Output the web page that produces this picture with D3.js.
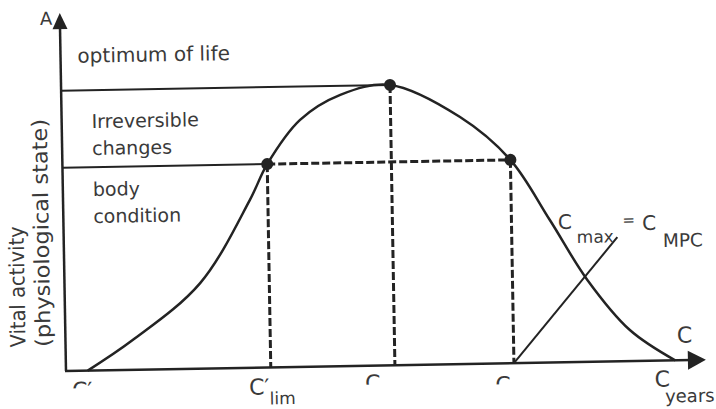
<!DOCTYPE html>
<html>
<head>
<meta charset="utf-8">
<script src="https://cdn.jsdelivr.net/npm/d3@7"></script>
<style>
  body { margin: 0; background: #fff; }
  text { font-family: "DejaVu Sans", Verdana, sans-serif; fill: #3a3a3a; }
</style>
</head>
<body>
<svg id="chart"></svg>
<script>
let w = 716;
let h = 409;

// curve: vital activity over time
let ageX     = [3.4, 10.5, 21.2, 29.2, 32.0, 37.25, 43.6, 51.4, 62.25, 70.0, 76.0, 81.7, 88.2, 95.2];
let activity = [0,   8.3,  23.9, 46.9, 56.8, 69.0,  75.8, 78.3, 69.0,  56.8, 39.8, 22.9, 8.7,  0];

// marked points: C'lim, peak, Cmax
let keyX = [32.0, 51.4, 70.0];
let keyY = [56.8, 78.3, 56.8];

let optimumLevel = 78.3;
let bodyLevel = 56.8;

// line C max = C MPC
let mpcX = [70.0, 86.5];
let mpcY = [0, 34.7];

let zoneLabels = [["optimum of life"], ["Irreversible", "changes"], ["body", "condition"]];

let ink = "#232323";

let chart = d3.select("#chart").attr("width", w).attr("height", h);

// the scan is turned by about a degree
let g = chart.append("g").attr("transform", "rotate(-1,66,371)");

let xScale = d3.scaleLinear().domain([0, 100]).range([66, 706]);
let yScale = d3.scaleLinear().domain([0, 100]).range([371, 13]);

let curve = ageX.map((x, i) => [x, activity[i]]);
let line = d3.line()
    .x(d => xScale(d[0]))
    .y(d => yScale(d[1]))
    .curve(d3.curveCatmullRom.alpha(0.5));

// axes
g.append("line")
    .attr("x1", xScale(0)).attr("y1", yScale(0))
    .attr("x2", xScale(0)).attr("y2", yScale(100) + 12)
    .attr("stroke", ink).attr("stroke-width", 2.5);
g.append("line")
    .attr("x1", xScale(0) - 1).attr("y1", yScale(0))
    .attr("x2", xScale(100) - 14).attr("y2", yScale(0))
    .attr("stroke", ink).attr("stroke-width", 2.5);

// arrow heads
let tipY = [xScale(0), yScale(100)];
g.append("path")
    .attr("d", `M${tipY[0]},${tipY[1]} L${tipY[0] - 7.5},${tipY[1] + 16} L${tipY[0] + 7.5},${tipY[1] + 16} Z`)
    .attr("fill", ink);
let tipX = [xScale(100), yScale(0)];
g.append("path")
    .attr("d", `M${tipX[0]},${tipX[1]} L${tipX[0] - 18},${tipX[1] - 9.5} L${tipX[0] - 18},${tipX[1] + 9.5} Z`)
    .attr("fill", ink);

// solid level lines
g.append("line")
    .attr("x1", xScale(0)).attr("y1", yScale(optimumLevel))
    .attr("x2", xScale(keyX[1])).attr("y2", yScale(optimumLevel))
    .attr("stroke", ink).attr("stroke-width", 2);
g.append("line")
    .attr("x1", xScale(0)).attr("y1", yScale(bodyLevel))
    .attr("x2", xScale(keyX[0])).attr("y2", yScale(bodyLevel))
    .attr("stroke", ink).attr("stroke-width", 2);

// dashed lines
g.append("line")
    .attr("x1", xScale(keyX[0])).attr("y1", yScale(bodyLevel))
    .attr("x2", xScale(keyX[2])).attr("y2", yScale(bodyLevel))
    .attr("stroke", ink).attr("stroke-width", 3)
    .attr("stroke-dasharray", "8,3");
g.selectAll(".drop")
    .data(keyX)
    .join("line")
    .attr("class", "drop")
    .attr("x1", d => xScale(d)).attr("y1", (d, i) => yScale(keyY[i]))
    .attr("x2", d => xScale(d)).attr("y2", yScale(0))
    .attr("stroke", ink).attr("stroke-width", 3)
    .attr("stroke-dasharray", "8,3");

// Cmax = CMPC line
g.append("line")
    .attr("x1", xScale(mpcX[0])).attr("y1", yScale(mpcY[0]))
    .attr("x2", xScale(mpcX[1])).attr("y2", yScale(mpcY[1]))
    .attr("stroke", ink).attr("stroke-width", 2);

// curve
g.append("path")
    .datum(curve)
    .attr("d", line)
    .attr("fill", "none")
    .attr("stroke", ink)
    .attr("stroke-width", 2.5);

g.selectAll(".dot")
    .data(keyX)
    .join("circle")
    .attr("class", "dot")
    .attr("cx", d => xScale(d))
    .attr("cy", (d, i) => yScale(keyY[i]))
    .attr("r", 6)
    .attr("fill", ink);

// zone texts
let zoneBase = [63, 128.5, 196.5];
zoneLabels.forEach((lines, i) => {
    let t = g.append("text")
        .attr("x", i == 0 ? 83 : 96)
        .attr("y", zoneBase[i])
        .attr("font-size", i == 0 ? 20 : 19);
    lines.forEach((s, j) => {
        t.append("tspan")
            .attr("x", i == 0 ? 83 : 96)
            .attr("dy", j == 0 ? 0 : 27)
            .text(s);
    });
});

// axis titles
g.append("text").attr("x", 46).attr("y", 24.5).attr("font-size", 18).text("A");

g.append("text")
    .attr("transform", "translate(26,346.5) rotate(-90)")
    .attr("font-size", 21)
    .attr("textLength", 121)
    .attr("lengthAdjust", "spacingAndGlyphs")
    .text("Vital activity");
g.append("text")
    .attr("transform", "translate(51,346.5) rotate(-90)")
    .attr("font-size", 21)
    .attr("textLength", 228)
    .attr("lengthAdjust", "spacingAndGlyphs")
    .text("(physiological state)");

// x labels
let defs = chart.append("defs");
function fadedLabel(x, y, str, visible, id) {
    defs.append("clipPath").attr("id", id)
        .append("rect")
        .attr("x", x - 4).attr("y", y - 30)
        .attr("width", 40).attr("height", 30 - 16 + visible);
    g.append("text")
        .attr("x", x).attr("y", y)
        .attr("font-size", 22)
        .attr("clip-path", `url(#${id})`)
        .text(str);
}
fadedLabel(xScale(ageX[0]) - 16, 398, "C\u2032", 6.5, "c0");
fadedLabel(xScale(keyX[1]) - 30, 396, "C", 10, "c1");
fadedLabel(xScale(keyX[2]) - 19, 400, "C", 8, "c2");

let lim = g.append("text")
    .attr("x", xScale(keyX[0]) - 22).attr("y", 398)
    .attr("font-size", 22);
lim.append("tspan").text("C\u2032");
lim.append("tspan").attr("font-size", 17).attr("dy", 10).text("lim");

g.append("text").attr("x", 654.5).attr("y", 397).attr("font-size", 22).text("C");
g.append("text").attr("x", 664.5).attr("y", 413).attr("font-size", 18).text("years");
g.append("text").attr("x", 677.5).attr("y", 353.5).attr("font-size", 22).text("C");

// Cmax = CMPC
g.append("text").attr("x", 560.5).attr("y", 237.5).attr("font-size", 20).text("C");
g.append("text").attr("x", 579).attr("y", 252).attr("font-size", 17).text("max");
g.append("text").attr("x", 625).attr("y", 235).attr("font-size", 15).text("=");
g.append("text").attr("x", 644.5).attr("y", 240).attr("font-size", 20).text("C");
g.append("text").attr("x", 665).attr("y", 257.5).attr("font-size", 18.5).text("MPC");
</script>
</body>
</html>
